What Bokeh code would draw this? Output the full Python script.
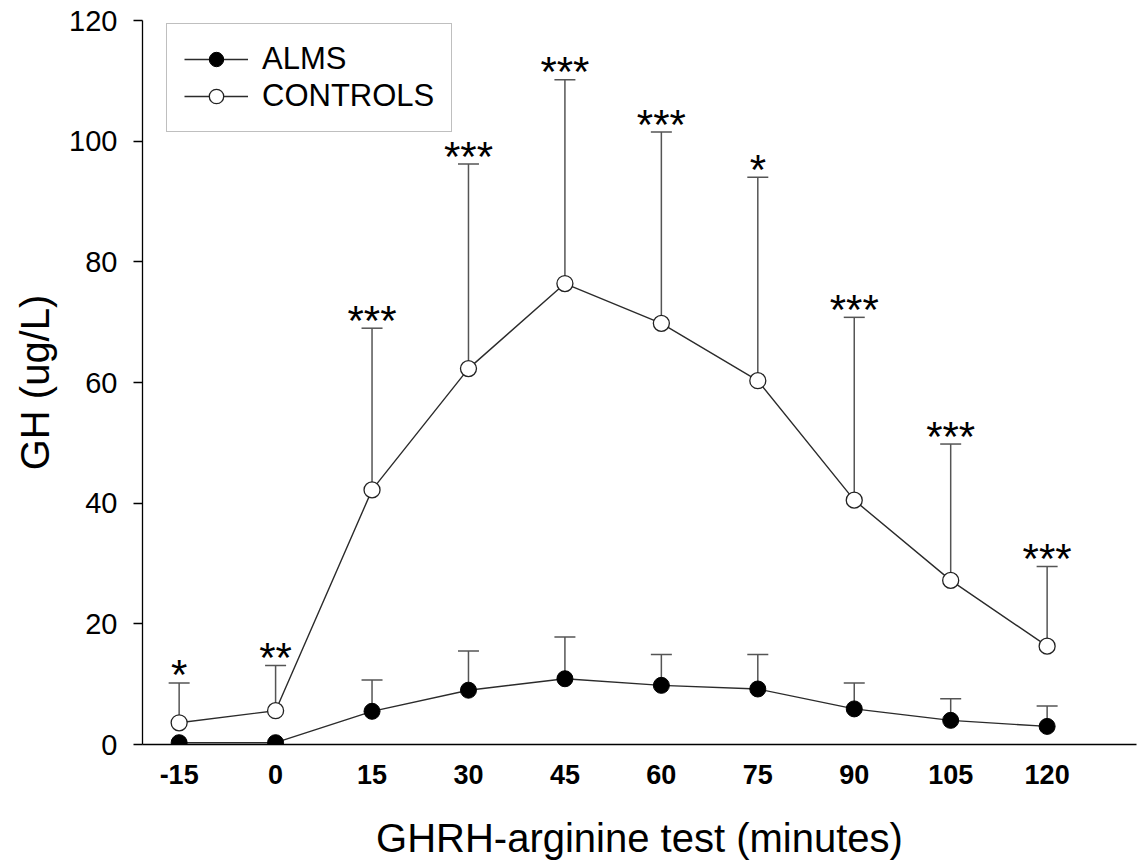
import math
from bokeh.plotting import figure
from bokeh.models import (Range1d, FixedTicker, Whisker, TeeHead, ColumnDataSource,
                          Legend, LegendItem)
from bokeh.embed import file_html
from bokeh.resources import INLINE
from bokeh.core.properties import value

# ---------------- data ----------------
minutes = [-15, 0, 15, 30, 45, 60, 75, 90, 105, 120]
x_tick_labels = ["-15", "0", "15", "30", "45", "60", "75", "90", "105", "120"]
alms_mean = [0.3, 0.3, 5.5, 9.0, 10.9, 9.8, 9.2, 5.9, 4.0, 3.0]
alms_upper = [float("nan"), float("nan"), 10.7, 15.5, 17.8, 14.9, 14.9, 10.2, 7.6, 6.4]
ctrl_mean = [3.6, 5.6, 42.2, 62.3, 76.4, 69.8, 60.3, 40.5, 27.2, 16.3]
ctrl_upper = [10.2, 13.1, 69.0, 96.2, 110.2, 101.5, 94.0, 70.8, 49.8, 29.5]
significance = ["*", "**", "***", "***", "***", "***", "*", "***", "***", "***"]
y_ticks = [0, 20, 40, 60, 80, 100, 120]
series_names = ["ALMS", "CONTROLS"]

FONT = "Liberation Sans"
ERR_COLOR = "#555555"
LINE_COLOR = "#2b2b2b"

p = figure(width=1140, height=862,
           x_range=Range1d(-20.7, 133.9), y_range=Range1d(0, 120),
           output_backend="svg", toolbar_location=None,
           min_border_left=142, min_border_right=4,
           min_border_top=20, min_border_bottom=117)
p.xgrid.visible = False
p.ygrid.visible = False
p.outline_line_color = None
p.background_fill_color = "white"
p.border_fill_color = "white"

# ---------------- error bars ----------------
def whisker_source(x, mean, upper):
    rows = [(a, b, c) for a, b, c in zip(x, mean, upper) if not math.isnan(c)]
    return ColumnDataSource(dict(x=[r[0] for r in rows],
                                 lower=[r[1] for r in rows],
                                 upper=[r[2] for r in rows]))

for mean, upper in [(alms_mean, alms_upper), (ctrl_mean, ctrl_upper)]:
    src = whisker_source(minutes, mean, upper)
    w = Whisker(base="x", lower="lower", upper="upper", source=src,
                dimension="height", line_color=ERR_COLOR, line_width=1.5,
                lower_head=None,
                upper_head=TeeHead(size=21, line_color=ERR_COLOR, line_width=1.5))
    p.add_layout(w)

# ---------------- lines and markers ----------------
alms_line = p.line(minutes, alms_mean, line_color=LINE_COLOR, line_width=1.4)
ctrl_line = p.line(minutes, ctrl_mean, line_color=LINE_COLOR, line_width=1.4)
alms_pts = p.scatter(minutes, alms_mean, size=16, fill_color="black",
                     line_color="black", line_width=1)
ctrl_pts = p.scatter(minutes, ctrl_mean, size=16, fill_color="white",
                     line_color="#222222", line_width=1.3)

# ---------------- significance stars ----------------
p.text(x=minutes, y=ctrl_upper, text=significance, text_align="center",
       text_baseline="alphabetic", y_offset=-8,
       text_font=value(FONT), text_font_size="42px", text_color="black")

# ---------------- axes ----------------
p.yaxis.ticker = FixedTicker(ticks=y_ticks)
p.yaxis.axis_line_width = 1.3
p.yaxis.axis_line_color = "black"
p.yaxis.major_tick_line_width = 1.3
p.yaxis.major_tick_out = 9
p.yaxis.major_tick_in = 0
p.yaxis.minor_tick_out = 0
p.yaxis.minor_tick_in = 0
p.yaxis.major_label_text_font = FONT
p.yaxis.major_label_text_font_size = "29px"
p.yaxis.major_label_text_color = "black"
p.yaxis.major_label_standoff = 16
p.yaxis.axis_label = "GH (ug/L)"
p.yaxis.axis_label_text_font = FONT
p.yaxis.axis_label_text_font_size = "40px"
p.yaxis.axis_label_text_font_style = "normal"
p.yaxis.axis_label_text_color = "black"
p.yaxis.axis_label_standoff = 9

p.xaxis.ticker = FixedTicker(ticks=minutes)
p.xaxis.major_label_overrides = dict(zip(minutes, x_tick_labels))
p.xaxis.axis_line_width = 1.3
p.xaxis.axis_line_color = "black"
p.xaxis.major_tick_out = 0
p.xaxis.major_tick_in = 0
p.xaxis.minor_tick_out = 0
p.xaxis.minor_tick_in = 0
p.xaxis.major_label_text_font = FONT
p.xaxis.major_label_text_font_size = "27px"
p.xaxis.major_label_text_font_style = "bold"
p.xaxis.major_label_text_color = "black"
p.xaxis.major_label_standoff = 20
p.xaxis.axis_label = "GHRH-arginine test (minutes)"
p.xaxis.axis_label_text_font = FONT
p.xaxis.axis_label_text_font_size = "40px"
p.xaxis.axis_label_text_font_style = "normal"
p.xaxis.axis_label_text_color = "black"
p.xaxis.axis_label_standoff = 29

# ---------------- legend ----------------
legend = Legend(items=[LegendItem(label=series_names[0], renderers=[alms_line, alms_pts]),
                       LegendItem(label=series_names[1], renderers=[ctrl_line, ctrl_pts])],
                location=(24, 612), orientation="vertical",
                border_line_color="#808080", border_line_width=1.5,
                background_fill_color="white", background_fill_alpha=1,
                padding=17, spacing=1, margin=0,
                glyph_width=64, glyph_height=36, label_height=36,
                label_standoff=14, label_text_font=FONT,
                label_text_font_size="31px", label_text_color="black")
p.add_layout(legend)

open("out.html", "w").write(file_html(p, INLINE))
